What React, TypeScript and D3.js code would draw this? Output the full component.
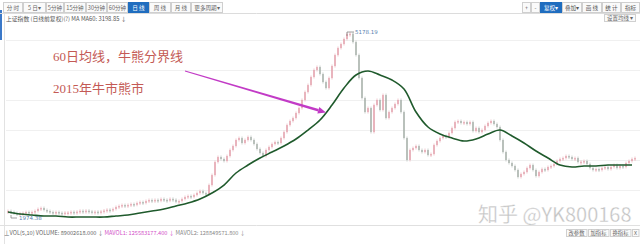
import React from "react";
import * as d3 from "d3";

// Shanghai Composite daily closes (sampled), 2014-03 .. 2016
const closes: number[] = [
  2027, 2009, 1992, 1974, 1985, 1992, 2009, 1995, 2010, 2027,
  2063, 2080, 2045, 2027, 2009, 1992, 2009, 1995, 1985, 1998,
  2000, 2012, 2001, 2015, 2030, 2018, 2033, 2020, 2005, 2015,
  2008, 2020, 2035, 2050, 2040, 2063, 2098, 2116, 2133, 2118,
  2135, 2151, 2137, 2169, 2186, 2170, 2204, 2222, 2206, 2224,
  2208, 2240, 2225, 2210, 2242, 2226, 2190, 2205, 2240, 2275,
  2293, 2278, 2310, 2346, 2381, 2345, 2328, 2487, 2664, 2894,
  2983, 2948, 2912, 3001, 3107, 3178, 3284, 3319, 3231, 3284,
  3337, 3284, 3213, 3125, 3054, 3001, 3107, 3160, 3213, 3248,
  3231, 3319, 3425, 3549, 3620, 3673, 3762, 3850, 3992, 4133,
  4257, 4399, 4523, 4576, 4452, 4310, 4204, 4381, 4594, 4788,
  4912, 4983, 5072, 5160, 5166, 5018, 4788, 4381, 4027, 3779,
  3850, 3425, 3903, 3992, 3815, 4080, 3673, 3779, 3850, 3921,
  3992, 3779, 3319, 2930, 3107, 3142, 3178, 3107, 3071, 3107,
  3018, 3036, 3195, 3266, 3319, 3355, 3337, 3408, 3496, 3602,
  3620, 3585, 3602, 3567, 3602, 3443, 3496, 3425, 3461, 3532,
  3585, 3620, 3567, 3514, 3284, 3071, 2930, 2877, 2824, 2753,
  2629, 2682, 2717, 2788, 2841, 2753, 2647, 2717, 2770, 2753,
  2806, 2824, 2859, 2912, 2948, 2965, 3001, 2983, 2948, 2965,
  2894, 2900, 2912, 2859, 2788, 2753, 2770, 2753, 2788, 2806,
  2770, 2806, 2841, 2788, 2824, 2806, 2877, 2912, 2948, 2965,
];

// MA60 values, one every 4 bars
const ma60: number[] = [
  2009, 1974, 1956, 1939, 1939, 1921, 1921, 1921, 1921, 1939,
  1956, 1992, 2027, 2063, 2116, 2169, 2240, 2346, 2487, 2700,
  2841, 2965, 3071, 3178, 3302, 3461, 3638, 3903, 4204, 4434,
  4505, 4434, 4346, 4187, 3779, 3514, 3390, 3319, 3266, 3302,
  3390, 3461, 3355, 3231, 3089, 2965, 2841, 2806, 2824, 2824,
  2841, 2841, 2841,
];
const MA_STEP = 4;

const HIGH_VALUE = 5178.19;
const HIGH_LABEL = "5178.19";
const LOW_VALUE = 1974.38;
const LOW_LABEL = "1974.38";

const leftButtons = ["分 时", "5 日▾", "5分钟", "15分钟", "30分钟", "60分钟", "日 线", "周 线", "月 线", "更多周期▾"];
const rightButtons = ["+", "-", "复权▾", "叠加▾", "画 线", "统 计", "指标"];
const bottomButtons = ["改参数", "加指标", "换指标", "X"];

const W = 640;
const H = 244;

export default function App() {
  const x = d3.scaleLinear().domain([0, closes.length - 1]).range([8, 635]);
  const y = d3.scaleLinear().domain([LOW_VALUE, HIGH_VALUE]).range([214, 33]);

  const maLine = d3
    .line<number>()
    .x((_, i) => x(i * MA_STEP))
    .y((d) => y(d))
    .curve(d3.curveCatmullRom);

  const hiIdx = closes.indexOf(d3.max(closes)!);
  const loIdx = closes.indexOf(d3.min(closes)!);

  const leftX = [3, 23, 46, 64, 86, 107, 128, 149, 171, 191, 223];
  const rightX = [522, 531, 540, 562, 582, 602, 621, 640];
  const botX = [566, 588, 610, 632, 640];

  // arrow geometry
  const ax0 = 185, ay0 = 71, ax1 = 326, ay1 = 112.5;
  const len = Math.hypot(ax1 - ax0, ay1 - ay0);
  const ux = (ax1 - ax0) / len, uy = (ay1 - ay0) / len;
  const nx = -uy, ny = ux;
  const bx = ax1 - 8 * ux, by = ay1 - 8 * uy;
  const shaft = [
    [ax0 + nx * 0.4, ay0 + ny * 0.4],
    [bx + nx * 1.3, by + ny * 1.3],
    [bx - nx * 1.3, by - ny * 1.3],
    [ax0 - nx * 0.4, ay0 - ny * 0.4],
  ];
  const head = [
    [ax1, ay1],
    [bx + nx * 3.5, by + ny * 3.5],
    [bx - nx * 3.5, by - ny * 3.5],
  ];

  const cjk = "'Noto Sans CJK SC', 'Noto Sans', sans-serif";
  const serif = "'Liberation Serif', 'DejaVu Serif', 'Noto Sans CJK SC', serif";

  return (
    <svg width={W} height={H} style={{ position: "absolute", left: 0, top: 0, background: "#fff" }}>
      <rect x={0} y={0} width={W} height={H} fill="#fff" />
      {/* grid */}
      {[40, 70, 100, 130, 160, 190].map((gy) => (
        <line key={gy} x1={6} x2={640} y1={gy + 0.5} y2={gy + 0.5} stroke="#f0f0f0" strokeWidth={1} />
      ))}
      {/* left edge */}
      <rect x={0} y={10} width={2} height={30} fill="#3a78c8" />
      <line x1={4.5} x2={4.5} y1={14} y2={244} stroke="#e2e2e2" />
      {/* toolbar */}
      <line x1={0} x2={640} y1={13.5} y2={13.5} stroke="#dcdcdc" />
      {leftButtons.map((b, i) => {
        const x0 = leftX[i], x1 = leftX[i + 1];
        const sel = i === 6;
        return (
          <g key={b}>
            <rect x={x0 + 0.5} y={2.5} width={x1 - x0 - 1} height={10} fill={sel ? "#1f6dbf" : "#fafafa"} stroke={sel ? "#1f6dbf" : "#cfcfcf"} />
            <text x={(x0 + x1) / 2} y={10} fontSize={5.6} textAnchor="middle" fill={sel ? "#fff" : "#666"} fontFamily={cjk}>{b}</text>
          </g>
        );
      })}
      {rightButtons.map((b, i) => {
        const x0 = rightX[i], x1 = rightX[i + 1];
        const sel = i === 2;
        return (
          <g key={b}>
            <rect x={x0 + 0.5} y={2.5} width={x1 - x0 - 1} height={10} fill={sel ? "#1f6dbf" : "#fafafa"} stroke={sel ? "#1f6dbf" : "#cfcfcf"} />
            <text x={(x0 + x1) / 2} y={10} fontSize={5.6} textAnchor="middle" fill={sel ? "#fff" : "#555"} fontFamily={cjk}>{b}</text>
          </g>
        );
      })}
      <text x={6} y={21} fontSize={5.8} fill="#555" fontFamily={cjk}>
        上证指数 (日线前复权)(?) MA   MA60: 3198.85 ↓
      </text>
      <rect x={604.5} y={14.5} width={31} height={7} fill="#fafafa" stroke="#d0d0d0" />
      <text x={620} y={20.3} fontSize={5.5} textAnchor="middle" fill="#666" fontFamily={cjk}>设置均线 ▾</text>

      {/* candles: body from previous close to close */}
      {closes.map((c, i) => {
        const o = i === 0 ? c : closes[i - 1];
        const yo = y(o), yc = y(c);
        const up = c >= o;
        const top = Math.min(yo, yc);
        const h = Math.max(1.5, Math.abs(yo - yc));
        return (
          <g key={i}>
            <line x1={x(i)} x2={x(i)} y1={top - 1.5} y2={top + h + 1.5} stroke={up ? "#e8b0b8" : "#b8bfba"} strokeWidth={0.7} />
            <rect x={x(i) - 0.7} y={top} width={1.4} height={h} fill={up ? "#e3a0ab" : "#a6afa9"} />
          </g>
        );
      })}

      {/* MA60 */}
      <path d={maLine(ma60) || ""} fill="none" stroke="#1f5a2c" strokeWidth={1.6} />

      {/* high / low marks */}
      <path d={`M${x(hiIdx) - 3},${y(HIGH_VALUE) + 3} L${x(hiIdx) - 3},${y(HIGH_VALUE) - 1} L${x(hiIdx) + 4},${y(HIGH_VALUE) - 1}`} fill="none" stroke="#777" strokeWidth={0.7} />
      <text x={x(hiIdx) + 5} y={y(HIGH_VALUE) + 1} fontSize={5.5} fill="#5a7fb0" fontFamily="'DejaVu Sans', sans-serif">{HIGH_LABEL}</text>
      <path d={`M${x(loIdx) - 6},${y(LOW_VALUE) + 1} L${x(loIdx) - 6},${y(LOW_VALUE) + 4} L${x(loIdx)},${y(LOW_VALUE) + 4}`} fill="none" stroke="#777" strokeWidth={0.7} />
      <text x={x(loIdx) + 2} y={y(LOW_VALUE) + 5.5} fontSize={5.5} fill="#5a7fb0" fontFamily="'DejaVu Sans', sans-serif">{LOW_LABEL}</text>

      {/* annotation */}
      <text x={53} y={61} fontSize={13} fill="#c45a55" fontFamily={serif}>60日均线，牛熊分界线</text>
      <text x={53} y={93} fontSize={13} fill="#c45a55" fontFamily={serif}>2015年牛市熊市</text>
      <polygon points={shaft.map((p) => p.join(",")).join(" ")} fill="#c23bc6" />
      <polygon points={head.map((p) => p.join(",")).join(" ")} fill="#c23bc6" />

      {/* watermark */}
      <text x={478} y={222} fontSize={20} fill="#c4c4c4" fontFamily={cjk} stroke="#ffffff" strokeWidth={0.3}>知乎 @YK800168</text>

      {/* volume header */}
      <line x1={0} x2={640} y1={225.5} y2={225.5} stroke="#e0e0e0" />
      <text x={4} y={235} fontSize={5.6} fontFamily={cjk}>
        <tspan fill="#666">⊥VOL(5,10)  VOLUME: 89002618.000 ↓  </tspan>
        <tspan fill="#d24fc8">MAVOL1: 125583177.400 ↓  </tspan>
        <tspan fill="#888">MAVOL2: 128849571.800 ↓</tspan>
      </text>
      {bottomButtons.map((b, i) => {
        const x0 = botX[i], x1 = botX[i + 1];
        return (
          <g key={b}>
            <rect x={x0 + 0.5} y={229.5} width={x1 - x0 - 1.5} height={7} fill="#fafafa" stroke="#cfcfcf" />
            <text x={(x0 + x1) / 2 - 0.5} y={235.2} fontSize={5.3} textAnchor="middle" fill="#666" fontFamily={cjk}>{b}</text>
          </g>
        );
      })}
    </svg>
  );
}
